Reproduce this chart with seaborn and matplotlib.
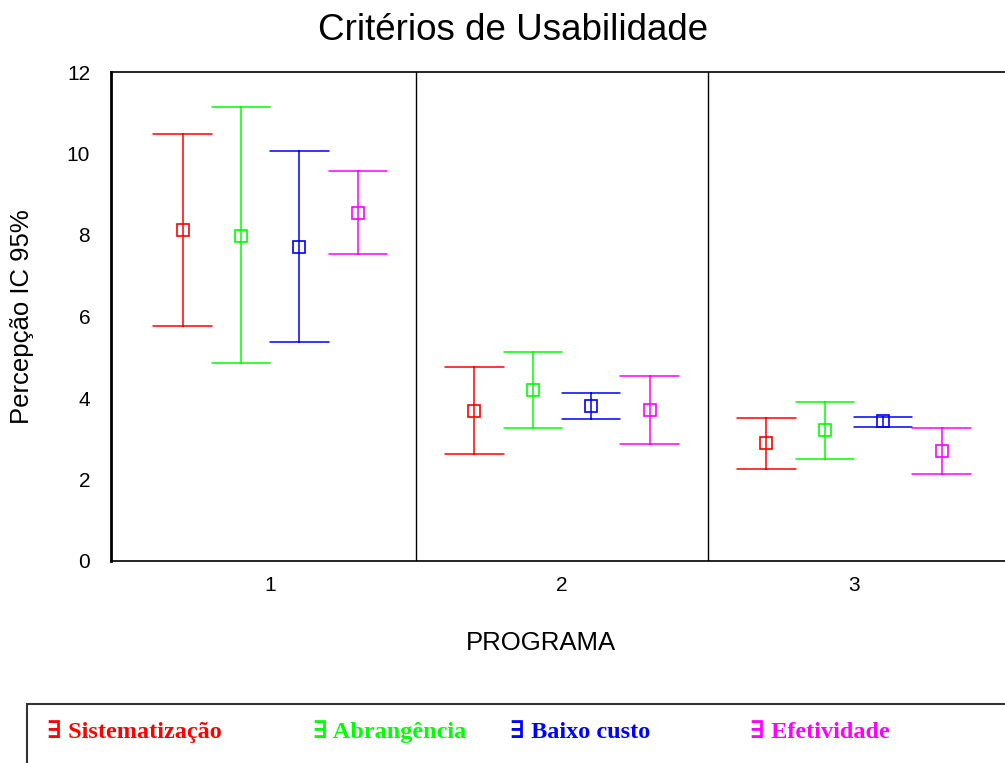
import matplotlib
matplotlib.use("Agg")
import matplotlib.pyplot as plt
import seaborn as sns
import pandas as pd
from matplotlib.patches import Rectangle

# médias e limites do IC 95% por programa (1, 2, 3)
programas = ["1", "2", "3"]
criterios = ["Sistematização", "Abrangência", "Baixo custo", "Efetividade"]
cores = ["#FF0000", "#00FF00", "#0000FF", "#FF00FF"]

sist_media = [8.12, 3.68, 2.89]
sist_inf = [5.77, 2.62, 2.26]
sist_sup = [10.48, 4.75, 3.52]

abr_media = [7.98, 4.20, 3.21]
abr_inf = [4.87, 3.27, 2.50]
abr_sup = [11.13, 5.14, 3.90]

baixo_media = [7.71, 3.80, 3.44]
baixo_inf = [5.38, 3.49, 3.30]
baixo_sup = [10.05, 4.13, 3.54]

efet_media = [8.53, 3.71, 2.70]
efet_inf = [7.53, 2.86, 2.14]
efet_sup = [9.58, 4.53, 3.27]

series = {
    "Sistematização": (sist_inf, sist_media, sist_sup),
    "Abrangência": (abr_inf, abr_media, abr_sup),
    "Baixo custo": (baixo_inf, baixo_media, baixo_sup),
    "Efetividade": (efet_inf, efet_media, efet_sup),
}

# cada célula tem 3 valores: limite inferior, média e limite superior
linhas = []
for crit, (inf, med, sup) in series.items():
    for i, prog in enumerate(programas):
        for v in (inf[i], med[i], sup[i]):
            linhas.append({"PROGRAMA": prog, "criterio": crit, "valor": v})
df = pd.DataFrame(linhas)

sns.set_style("white")
plt.rcParams["font.family"] = ["Liberation Sans", "DejaVu Sans"]
plt.rcParams["text.color"] = "black"

fig = plt.figure(figsize=(10.05, 7.63), dpi=100)
ax = fig.add_axes([111 / 1005, 1 - 561 / 763, 1 - 111 / 1005, (561 - 72) / 763])

sns.pointplot(
    data=df, x="PROGRAMA", y="valor", hue="criterio",
    order=programas, hue_order=criterios, palette=cores,
    estimator="median", errorbar=lambda v: (v.min(), v.max()),
    dodge=0.6, linestyle="none", markers="s", markersize=9,
    markerfacecolor="none", markeredgewidth=1.2,
    capsize=0.2, err_kws={"linewidth": 1.1},
    legend=False, ax=ax,
)

ax.set_xlim(-0.545, 2.517)
ax.set_ylim(0, 12)
ax.set_yticks(range(0, 13, 2))
for x in (0.5, 1.5):
    ax.axvline(x, color="black", linewidth=1.0)

for side in ("left", "top", "bottom"):
    ax.spines[side].set_color("black")
    ax.spines[side].set_linewidth(1.2)
ax.spines["left"].set_linewidth(2)
ax.spines["right"].set_visible(False)
ax.tick_params(axis="both", direction="out", length=5, width=1.5, colors="black",
               labelsize=15)
ax.tick_params(axis="y", pad=10)
ax.tick_params(axis="x", pad=6)
ax.set_xlabel("")
ax.set_ylabel("")

fig.text(541 / 1005, 1 - 643 / 763, "PROGRAMA", ha="center", va="center",
         fontsize=18.5, color="black")
fig.text(22 / 1005, 1 - 317 / 763, "Percepção IC 95%", ha="center", va="center",
         rotation=90, fontsize=18.5, color="black")
fig.text(513 / 1005, 1 - 30 / 763, "Critérios de Usabilidade", ha="center",
         va="center", fontsize=26.5, color="black")

# legenda em caixa inferior
fig.patches.append(Rectangle((27 / 1005, -0.05), 1.0, 0.05 + 1 - 704 / 763,
                             transform=fig.transFigure, fill=False,
                             edgecolor="#333333", linewidth=1.5))
pos_x = [47, 313, 510, 750]
for crit, cor, px in zip(criterios, cores, pos_x):
    fig.text(px / 1005, 1 - 732 / 763, "∃ " + crit, color=cor, fontsize=17.5,
             fontweight="bold", va="center", ha="left",
             family=["Liberation Serif", "DejaVu Serif"])

fig.savefig("out.png", dpi=100)
